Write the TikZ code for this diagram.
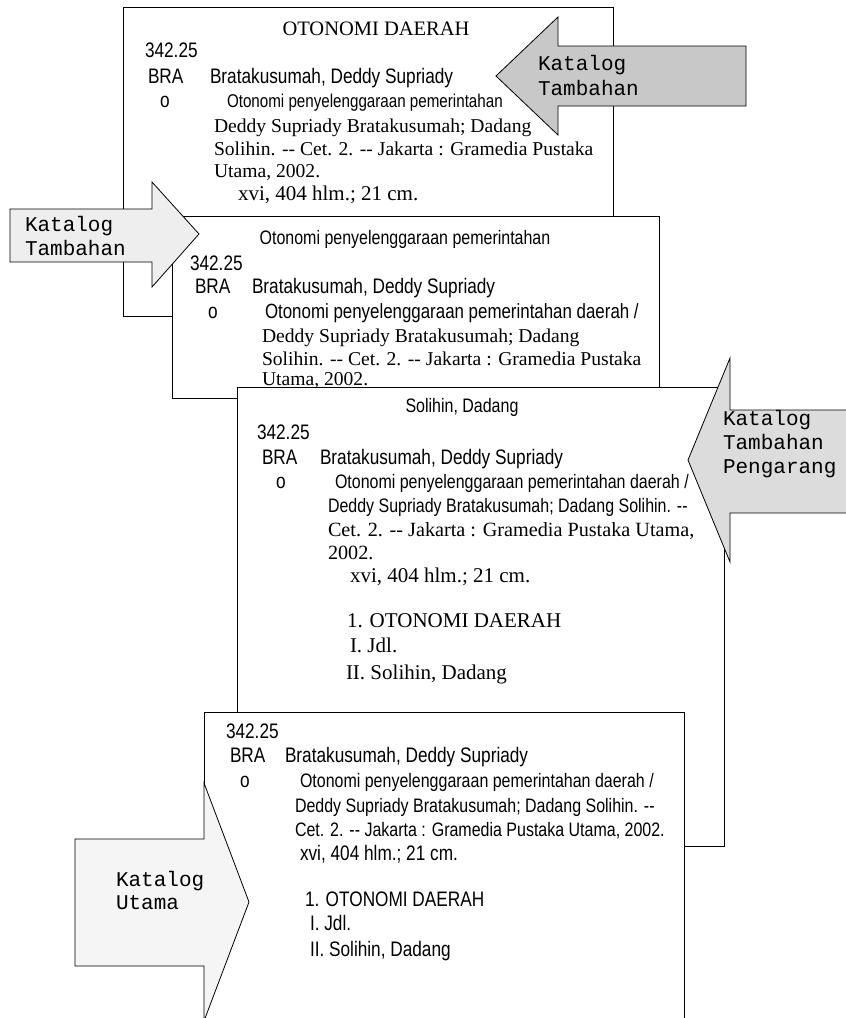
\documentclass[tikz,border=0pt]{standalone}
\usepackage{fontspec}
\setmainfont{Liberation Serif}
\setmonofont{Liberation Mono}
\newfontfamily\nsans[FakeStretch=0.82]{Liberation Sans}
\newcommand\snL{\nsans\fontsize{21}{25}\selectfont}
\newcommand\snM{\nsans\fontsize{19.5}{24}\selectfont}
\newcommand\snS{\nsans\fontsize{18.5}{22}\selectfont}
\newcommand\srM{\rmfamily\fontsize{19.6}{24}\selectfont}
\newcommand\srN{\rmfamily\fontsize{20.2}{24}\selectfont}
\newcommand\srL{\rmfamily\fontsize{21}{25}\selectfont}
\newcommand\srT{\rmfamily\fontsize{20.5}{25}\selectfont}
\newcommand\monoL{\ttfamily\fontsize{21}{24}\selectfont}
\newcommand\dd{-\kern0pt-}
\definecolor{gA}{HTML}{C8C8C8}
\definecolor{gB}{HTML}{EEEEEE}
\definecolor{gC}{HTML}{DCDCDC}
\definecolor{gD}{HTML}{F5F5F5}
\tikzset{
  card/.style={draw=black, fill=white, line width=0.8pt},
  arr/.style={draw=black, line width=0.8pt, line join=miter},
  tx/.style={anchor=base west, inner sep=0pt, outer sep=0pt},
}
\begin{document}
\begin{tikzpicture}[x=1pt,y=-1pt]
\useasboundingbox (0,0) rectangle (846,1018);
% ---------- card 1 ----------
\draw[card] (123,7) rectangle (613,316);
\node[tx, anchor=base, font=\srT] (c1title) at (376,35) {OTONOMI DAERAH};
\node[tx, font=\snL] (c1num) at (145,57) {342.25};
\node[tx, font=\snL] (c1bra) at (148,83) {BRA};
\node[tx, font=\snL] (c1auth) at (210,83) {Bratakusumah, Deddy Supriady};
\node[tx, font=\snL] (c1o) at (160,107) {o};
\node[tx, font=\snS] (c1l1) at (227,107) {Otonomi penyelenggaraan pemerintahan};
\node[tx, font=\srM] (c1l2) at (214,132) {Deddy Supriady Bratakusumah; Dadang};
\node[tx, font=\srM] (c1l3) at (214,155) {Solihin. \dd{} Cet. 2. \dd{} Jakarta : Gramedia Pustaka};
\node[tx, font=\srM] (c1l4) at (214,177) {Utama, 2002.};
\node[tx, font=\srL] (c1l5) at (238,200) {xvi, 404 hlm.; 21 cm.};
% ---------- card 2 ----------
\draw[card] (172,216) rectangle (659,398);
\node[tx, anchor=base, font=\snM] (c2title) at (405,244) {Otonomi penyelenggaraan pemerintahan};
\node[tx, font=\snL] (c2num) at (190,270) {342.25};
\node[tx, font=\snL] (c2bra) at (195,293) {BRA};
\node[tx, font=\snL] (c2auth) at (252,293) {Bratakusumah, Deddy Supriady};
\node[tx, font=\snL] (c2o) at (208,318) {o};
\node[tx, font=\nsans\fontsize{20.6}{24}\selectfont] (c2l1) at (265,318) {Otonomi penyelenggaraan pemerintahan daerah /};
\node[tx, font=\srM] (c2l2) at (262,342) {Deddy Supriady Bratakusumah; Dadang};
\node[tx, font=\srM] (c2l3) at (262,365) {Solihin. \dd{} Cet. 2. \dd{} Jakarta : Gramedia Pustaka};
\node[tx, font=\srM] (c2l4) at (262,385) {Utama, 2002.};
% ---------- arrow 1 (top right, pointing left) ----------
\draw[arr, fill=gA] (496,76) -- (558,17) -- (558,46) -- (746,46) -- (746,106) -- (558,106) -- (558,135) -- cycle;
\node[tx, font=\monoL] (a1l1) at (538,70) {Katalog};
\node[tx, font=\monoL] (a1l2) at (538,95) {Tambahan};
% ---------- arrow 2 (left, pointing right) ----------
\draw[arr, fill=gB] (10,209) -- (152,209) -- (152,182) -- (199,234) -- (152,287) -- (152,262) -- (10,262) -- cycle;
\node[tx, font=\monoL] (a2l1) at (25,231) {Katalog};
\node[tx, font=\monoL] (a2l2) at (25,255) {Tambahan};
% ---------- card 3 ----------
\draw[card] (237,387) rectangle (724,846);
\node[tx, anchor=base, font=\snM] (c3title) at (462,412) {Solihin, Dadang};
\node[tx, font=\snL] (c3num) at (257,439) {342.25};
\node[tx, font=\snL] (c3bra) at (262,464) {BRA};
\node[tx, font=\snL] (c3auth) at (320,464) {Bratakusumah, Deddy Supriady};
\node[tx, font=\snL] (c3o) at (276,488) {o};
\node[tx, font=\snM] (c3l1) at (335,488) {Otonomi penyelenggaraan pemerintahan daerah /};
\node[tx, font=\snM] (c3l2) at (328,512) {Deddy Supriady Bratakusumah; Dadang Solihin. \dd};
\node[tx, font=\srN] (c3l3) at (328,536) {Cet. 2. \dd{} Jakarta : Gramedia Pustaka Utama,};
\node[tx, font=\srN] (c3l4) at (328,559) {2002.};
\node[tx, font=\srL] (c3l5) at (350,582) {xvi, 404 hlm.; 21 cm.};
\node[tx, font=\srL] (c3l6) at (347,627) {1. OTONOMI DAERAH};
\node[tx, font=\srL] (c3l7) at (350,652) {I. Jdl.};
\node[tx, font=\srL] (c3l8) at (346,679) {II. Solihin, Dadang};
% ---------- arrow 3 (right, pointing left) ----------
\draw[arr, fill=gC] (852,410) -- (730,410) -- (730,358) -- (688,460) -- (730,562) -- (730,513) -- (852,513);
\node[tx, font=\monoL] (a3l1) at (723,425) {Katalog};
\node[tx, font=\monoL] (a3l2) at (723,449) {Tambahan};
\node[tx, font=\monoL] (a3l3) at (723,473) {Pengarang};
% ---------- card 4 ----------
\draw[card] (204,712) rectangle (684,1030);
\node[tx, font=\snL] (c4num) at (226,738) {342.25};
\node[tx, font=\snL] (c4bra) at (230,762) {BRA};
\node[tx, font=\snL] (c4auth) at (285,762) {Bratakusumah, Deddy Supriady};
\node[tx, font=\snL] (c4o) at (240,787) {o};
\node[tx, font=\snM] (c4l1) at (300,787) {Otonomi penyelenggaraan pemerintahan daerah /};
\node[tx, font=\snM] (c4l2) at (295,812) {Deddy Supriady Bratakusumah; Dadang Solihin. \dd};
\node[tx, font=\snM] (c4l3) at (295,836) {Cet. 2. \dd{} Jakarta : Gramedia Pustaka Utama, 2002.};
\node[tx, font=\snL] (c4l4) at (300,860) {xvi, 404 hlm.; 21 cm.};
\node[tx, font=\snL] (c4l5) at (305,906) {1. OTONOMI DAERAH};
\node[tx, font=\snL] (c4l6) at (310,930) {I. Jdl.};
\node[tx, font=\snL] (c4l7) at (310,956) {II. Solihin, Dadang};
% ---------- arrow 4 (bottom left, pointing right) ----------
\draw[arr, fill=gD] (75,839) -- (204,839) -- (204,783) -- (249,902) -- (204,1021) -- (204,966) -- (75,966) -- cycle;
\node[tx, font=\monoL] (a4l1) at (116,886) {Katalog};
\node[tx, font=\monoL] (a4l2) at (116,909) {Utama};
\end{tikzpicture}
\end{document}
